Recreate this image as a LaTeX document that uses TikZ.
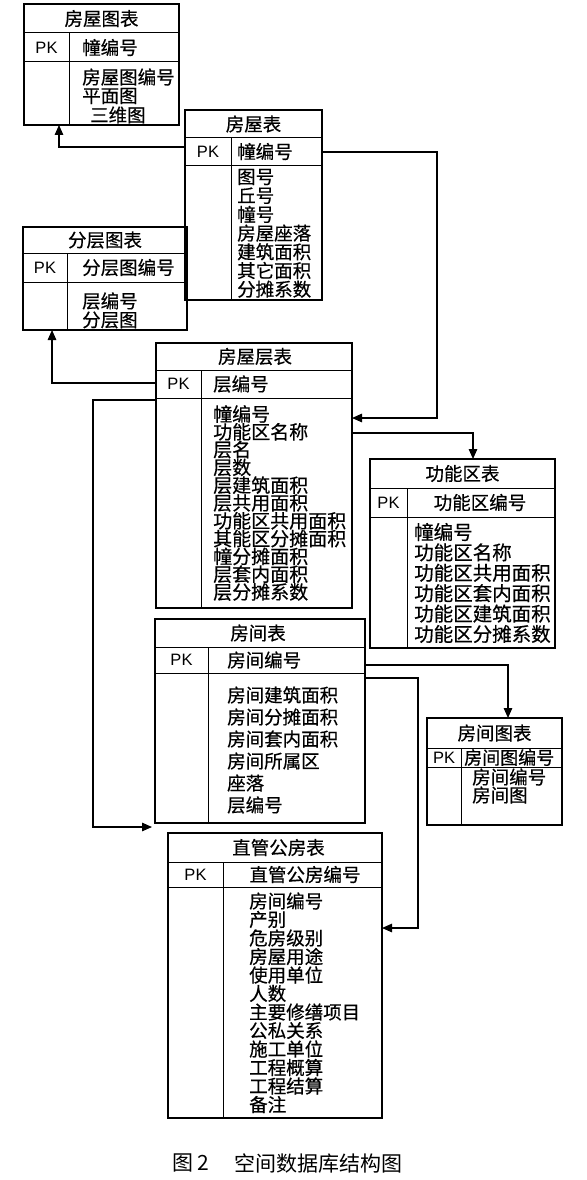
\documentclass[tikz,border=0pt]{standalone}
\usepackage{fontspec}
\setmainfont{Noto Sans CJK SC}[FakeBold=0.5]
\newfontfamily\capfont{Noto Sans CJK SC}
\newfontfamily\pkfont{Liberation Sans}
\usetikzlibrary{arrows.meta}
\begin{document}
\begin{tikzpicture}[x=1pt,y=-1pt,
  tbox/.style={draw, line width=1.5pt, inner sep=0pt, outer sep=0pt, anchor=north west},
  inner/.style={line width=1pt},
  conn/.style={line width=1.3pt, -{Triangle[length=10pt,width=8.5pt]}},
  ttl/.style={font=\fontsize{18.5}{18.5}\selectfont, inner sep=0pt},
  pk/.style={font=\pkfont\fontsize{16.5}{16.5}\selectfont, inner sep=0pt},
  body/.style={anchor=west, inner sep=0pt, font=\fontsize{18.5}{18.5}\selectfont},
  captxt/.style={anchor=west, inner sep=0pt, font=\capfont\fontsize{21}{21}\selectfont}]
\useasboundingbox[fill=white] (0,0) rectangle (586,1180);

% ---------- 房屋图表 ----------
\node[tbox, minimum width=155pt, minimum height=121pt] (t1) at (24,4) {};
\draw[inner] (24,33) -- (179,33) (24,62) -- (179,62) (69,33) -- (69,125);
\node[ttl] (t1t) at (101.5,18.5) {房屋图表};
\node[pk] (t1p) at (46.5,47.5) {PK};
\node[body] (t1k) at (82,47.5) {幢编号};
\node[body] (t1r0) at (82,77) {房屋图编号};
\node[body] (t1r1) at (82,96) {平面图};
\node[body] (t1r2) at (90,115) {三维图};

% ---------- 房屋表 ----------
\node[tbox, minimum width=137pt, minimum height=190pt] (t2) at (185,110) {};
\draw[inner] (185,138) -- (322,138) (185,165) -- (322,165) (231,138) -- (231,300);
\node[ttl] (t2t) at (253.5,124) {房屋表};
\node[pk] (t2p) at (208,151.5) {PK};
\node[body] (t2k) at (237,151.5) {幢编号};
\foreach \s [count=\i from 0] in {图号,丘号,幢号,房屋座落,建筑面积,其它面积,分摊系数}
  \node[body] (t2r\i) at (237,177+18.7*\i) {\s};

% ---------- 分层图表 ----------
\node[tbox, minimum width=164pt, minimum height=103pt] (t3) at (23,227) {};
\draw[inner] (23,253) -- (187,253) (23,282) -- (187,282) (67,253) -- (67,330);
\node[ttl] (t3t) at (105,240) {分层图表};
\node[pk] (t3p) at (45,267.5) {PK};
\node[body] (t3k) at (82,267.5) {分层图编号};
\node[body] (t3r0) at (82,301) {层编号};
\node[body] (t3r1) at (82,320) {分层图};

% ---------- 房屋层表 ----------
\node[tbox, minimum width=196pt, minimum height=265pt] (t4) at (156,343) {};
\draw[inner] (156,370) -- (352,370) (156,398) -- (352,398) (201,370) -- (201,608);
\node[ttl] (t4t) at (255,356.5) {房屋层表};
\node[pk] (t4p) at (178.5,384) {PK};
\node[body] (t4k) at (213,384) {层编号};
\foreach \s [count=\i from 0] in {幢编号,功能区名称,层名,层数,层建筑面积,层共用面积,功能区共用面积,其能区分摊面积,幢分摊面积,层套内面积,层分摊系数}
  \node[body, font=\fontsize{19}{19}\selectfont] (t4r\i) at (213,414+17.8*\i) {\s};

% ---------- 功能区表 ----------
\node[tbox, minimum width=185pt, minimum height=189pt] (t5) at (370,459) {};
\draw[inner] (370,488) -- (555,488) (370,517) -- (555,517) (407,488) -- (407,648);
\node[ttl] (t5t) at (462.5,473.5) {功能区表};
\node[pk] (t5p) at (388.5,502.5) {PK};
\node[ttl] (t5k) at (480,502.5) {功能区编号};
\foreach \s [count=\i from 0] in {幢编号,功能区名称,功能区共用面积,功能区套内面积,功能区建筑面积,功能区分摊系数}
  \node[body, font=\fontsize{19.5}{19.5}\selectfont] (t5r\i) at (414,532+20.4*\i) {\s};

% ---------- 房间表 ----------
\node[tbox, minimum width=210pt, minimum height=204pt] (t6) at (155,619) {};
\draw[inner] (155,647) -- (365,647) (155,673) -- (365,673) (208,647) -- (208,823);
\node[ttl] (t6t) at (258,633) {房间表};
\node[pk] (t6p) at (181.5,660) {PK};
\node[body] (t6k) at (227,660) {房间编号};
\foreach \s [count=\i from 0] in {房间建筑面积,房间分摊面积,房间套内面积,房间所属区,座落,层编号}
  \node[body] (t6r\i) at (227,695+22*\i) {\s};

% ---------- 房间图表 ----------
\node[tbox, minimum width=135pt, minimum height=107pt] (t7) at (427,718) {};
\draw[inner] (427,748) -- (562,748) (427,767) -- (562,767) (461,748) -- (461,825);
\node[ttl] (t7t) at (494.5,733) {房间图表};
\node[pk] (t7p) at (444,757.5) {PK};
\node[body, font=\fontsize{18}{18}\selectfont] (t7k) at (464,757.5) {房间图编号};
\node[body] (t7r0) at (472,777) {房间编号};
\node[body] (t7r1) at (472,795) {房间图};

% ---------- 直管公房表 ----------
\node[tbox, minimum width=214pt, minimum height=285pt] (t8) at (168,833) {};
\draw[inner] (168,862) -- (382,862) (168,887) -- (382,887) (223,862) -- (223,1118);
\node[ttl] (t8t) at (278.5,847.5) {直管公房表};
\node[pk] (t8p) at (195.5,874.5) {PK};
\node[ttl] (t8k) at (305,874.5) {直管公房编号};
\foreach \s [count=\i from 0] in {房间编号,产别,危房级别,房屋用途,使用单位,人数,主要修缮项目,公私关系,施工单位,工程概算,工程结算,备注}
  \node[body] (t8r\i) at (249,901+18.5*\i) {\s};

% ---------- connectors ----------
\coordinate (c4end) at (152,827);
\draw[conn] (t2.west |- 0,147) -| (t1.south -| 59,0);
\draw[conn] (t2.east |- 0,152) -- (437,152) |- (t4.east |- 0,418);
\draw[conn] (t4.west |- 0,383) -| (t3.south -| 52,0);
\draw[conn] (t4.west |- 0,400) -- (93,400) |- (c4end);
\draw[conn] (t4.east |- 0,433) -| (t5.north -| 473,0);
\draw[conn] (t6.east |- 0,665) -| (t7.north -| 508,0);
\draw[conn] (t6.east |- 0,678) -- (418,678) |- (t8.east |- 0,928);

% ---------- caption ----------
\node[captxt] (cap1) at (172,1163) {图 2};
\node[captxt] (cap2) at (234,1163) {空间数据库结构图};
\end{tikzpicture}
\end{document}
